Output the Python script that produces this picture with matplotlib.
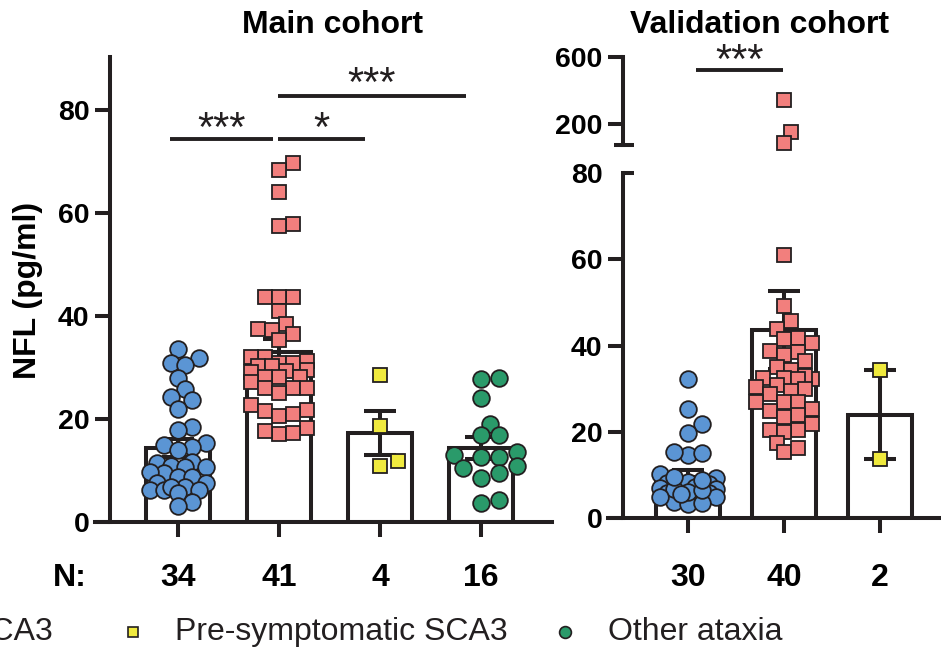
import numpy as np
import matplotlib
matplotlib.use("Agg")
import matplotlib.pyplot as plt
import matplotlib.transforms as mtransforms
from matplotlib.lines import Line2D

plt.rcParams["font.family"] = ["Liberation Sans", "DejaVu Sans"]

# ---- data ----
main_groups = ["Symptomatic SCA3", "Symptomatic SCA3 (2)", "Pre-symptomatic SCA3", "Other ataxia"]
main_n = ["34", "41", "4", "16"]
main_mean = [14.4, 33.0, 17.3, 14.4]
main_sem = [1.8, 2.6, 4.2, 2.1]

main_sca3 = [33.5, 30.9, 31.9, 30.5, 28.0, 25.8, 24.3, 23.6, 21.9, 18.4, 17.9, 15.4,
             15.0, 14.6, 14.0, 11.7, 11.4, 10.9, 10.6, 10.6, 9.6, 9.8, 8.8, 8.8, 7.5,
             6.7, 7.5, 6.3, 6.3, 6.2, 6.7, 5.7, 3.9, 3.1]
main_sca3_b = [69.8, 68.3, 64.1, 57.9, 57.5, 43.6, 43.6, 43.6, 41.0, 37.5, 38.4, 37.3,
               36.5, 35.3, 32.1, 32.1, 30.3, 30.9, 30.8, 31.3, 29.5, 29.2, 29.4, 30.2,
               28.1, 28.1, 28.2, 27.1, 26.1, 26.1, 26.1, 25.0, 22.7, 21.6, 21.7, 20.6,
               21.0, 18.3, 17.1, 17.3, 17.7]
main_pre = [28.5, 18.6, 10.9, 11.9]
main_other = [27.8, 27.9, 24.0, 19.0, 16.9, 16.9, 12.6, 12.7, 13.1, 13.5, 9.6, 10.9,
              10.4, 8.5, 3.7, 4.3]

val_n = ["30", "40", "2"]
val_mean = [9.5, 43.6, 24.0]
val_err = [1.6, 9.0, 10.3]

val_a = [32.2, 25.2, 21.8, 19.6, 14.6, 15.0, 15.2, 10.2, 9.2, 7.4, 8.0, 8.2, 8.4, 7.3,
         6.7, 6.9, 5.7, 5.9, 4.8, 4.9, 3.8, 3.2, 3.4, 6.1, 6.7, 6.5, 8.8, 9.6, 5.6, 4.9]
val_b = [343, 154, 88, 60.9, 49.2, 45.6, 43.8, 41.7, 41.5, 40.5, 38.7, 38.6, 37.8, 36.3,
         35.1, 34.3, 32.4, 32.3, 32.9, 32.4, 32.2, 30.9, 30.3, 29.9, 29.5, 28.7, 26.8,
         27.0, 27.0, 25.2, 24.9, 23.9, 23.4, 21.8, 20.4, 20.3, 19.9, 17.5, 15.2, 16.3]
val_pre = [34.3, 13.7]

# ---- styles ----
INK = "#231f20"
BLUE = "#5b95d4"
RED = "#f27f7d"
YELLOW = "#f0ea3e"
GREEN = "#2a9a6a"
LW = 2.9

W, H = 941, 657
fig = plt.figure(figsize=(W / 100, H / 100), dpi=100)


def px_axes(x0, y0, x1, y1):
    """axes from pixel box (left, top, right, bottom)"""
    return fig.add_axes([x0 / W, 1 - y1 / H, (x1 - x0) / W, (y1 - y0) / H])


def style(ax, spine_x, bottom=True):
    for s in ["top", "right"]:
        ax.spines[s].set_visible(False)
    ax.spines["left"].set_position(("data", spine_x))
    ax.spines["left"].set_linewidth(LW)
    ax.spines["left"].set_color(INK)
    ax.spines["bottom"].set_linewidth(LW)
    ax.spines["bottom"].set_color(INK)
    ax.spines["bottom"].set_visible(bottom)
    ax.tick_params(axis="y", direction="out", length=10.8, width=LW, color=INK,
                   labelsize=20.5, pad=4)
    ax.tick_params(axis="x", direction="out", length=10.8, width=LW, color=INK,
                   labelbottom=False, bottom=bottom)
    for lab in ax.get_yticklabels():
        lab.set_fontweight("bold")
    ax.patch.set_visible(False)


def swarm(ax, xc, vals, d, step, nmax=4):
    vals = np.asarray(vals, float)
    pts = ax.transData.transform(np.column_stack([np.full(len(vals), xc), vals]))
    placed = []
    out = np.zeros(len(vals))
    cands = [0.0]
    for k in range(1, nmax + 1):
        cands += [k * step, -k * step]
    for i in np.argsort(vals):
        y = pts[i, 1]
        best, bestd = 0.0, -1
        for off in cands:
            if placed:
                pp = np.array(placed)
                md = np.min(np.hypot(pp[:, 0] - (pts[i, 0] + off), pp[:, 1] - y))
            else:
                md = 1e9
            if md >= d:
                best = off
                break
            if md > bestd:
                best, bestd = off, md
        placed.append((pts[i, 0] + best, y))
        out[i] = pts[i, 0] + best
    xy = ax.transData.inverted().transform(np.column_stack([out, pts[:, 1]]))
    return xy[:, 0]


def dots(ax, xc, vals, color, marker, ms, d, step):
    xs = swarm(ax, xc, vals, d, step)
    ax.plot(xs, vals, ls="none", marker=marker, ms=ms, mfc=color, mec=INK,
            mew=1.3, zorder=5, clip_on=False)


def bars(ax, means, errs, width):
    x = np.arange(len(means))
    ax.bar(x, means, width=width, color="white", edgecolor=INK, linewidth=LW, zorder=2)
    ax.errorbar(x, means, yerr=errs, fmt="none", ecolor=INK, elinewidth=LW,
                capsize=11.5, capthick=LW, zorder=3)


def sig(ax, x0, x1, y, text, ty):
    ax.plot([x0, x1], [y, y], color=INK, lw=2.8, clip_on=False, solid_capstyle="butt")
    ax.text((x0 + x1) / 2, ty, text, ha="center", va="center", fontsize=30,
            color=INK, clip_on=False)


# ---- main cohort ----
ax1 = px_axes(95, 57, 552, 522)
ax1.set_xlim(-0.822, 3.703)
ax1.set_ylim(0, 90.3)
ax1.set_yticks([0, 20, 40, 60, 80])
ax1.set_xticks(range(4))
style(ax1, -0.673)
bars(ax1, main_mean, main_sem, 0.64)
dots(ax1, 0, main_sca3, BLUE, "o", 12, 13, 7)
dots(ax1, 1, main_sca3_b, RED, "s", 10.5, 12, 7)
dots(ax1, 2, main_pre, YELLOW, "s", 10.5, 12, 9)
dots(ax1, 3, main_other, GREEN, "o", 12, 14, 9)
sig(ax1, -0.079, 0.941, 74.4, "***", 76.2)
sig(ax1, 0.99, 1.85, 74.4, "*", 76.2)
sig(ax1, 0.99, 2.85, 82.7, "***", 84.8)

# ---- validation cohort (broken axis) ----
ax2 = px_axes(608, 173, 941, 518)
ax2.set_xlim(-0.833, 2.635)
ax2.set_ylim(0, 80)
ax2.set_yticks([0, 20, 40, 60, 80])
ax2.set_xticks(range(3))
style(ax2, -0.677)
ax2.yaxis.get_major_ticks()[-1].tick1line.set_visible(False)
ax2.plot([-0.677, -0.56], [80, 80], color=INK, lw=LW, clip_on=False,
         solid_capstyle="butt")
bars(ax2, val_mean, val_err, 0.66)
low_b = [v for v in val_b if v <= 80]
high_b = [v for v in val_b if v > 80]
dots(ax2, 0, val_a, BLUE, "o", 12, 12, 7)
dots(ax2, 1, low_b, RED, "s", 10.5, 12, 7)
dots(ax2, 2, val_pre, YELLOW, "s", 10.5, 12, 9)

ax3 = px_axes(608, 57, 941, 145)
ax3.set_xlim(-0.833, 2.635)
ax3.set_ylim(75, 600)
ax3.set_yticks([200, 600])
ax3.set_xticks([])
style(ax3, -0.677, bottom=False)
ax3.plot([-0.771, -0.5625], [75, 75], color=INK, lw=LW, clip_on=False,
         solid_capstyle="butt")
dots(ax3, 1, high_b, RED, "s", 10.5, 12, 7)
sig(ax3, 0.083, 0.99, 522, "***", 573)

# ---- labels ----
fig.text(333 / W, 1 - 25 / H, "Main cohort", ha="center", va="center",
         fontsize=23, fontweight="bold")
fig.text(759 / W, 1 - 25 / H, "Validation cohort", ha="center", va="center",
         fontsize=23, fontweight="bold")
fig.text(28 / W, 1 - 290 / H, "NFL (pg/ml)", rotation=90, ha="center", va="center",
         fontsize=23, fontweight="bold")

ny = 1 - 578 / H
fig.text(70 / W, ny, "N:", ha="center", va="center", fontsize=23, fontweight="bold")
for ax, labels in [(ax1, main_n), (ax2, val_n)]:
    tr = mtransforms.blended_transform_factory(ax.transData, fig.transFigure)
    for i, lab in enumerate(labels):
        fig.text(i, ny, lab, transform=tr, ha="center", va="center",
                 fontsize=23, fontweight="bold")

# ---- legend row (runs off the left edge like the source) ----
ly = 1 - 632 / H
fig.text(53 / W, ly, "Symptomatic SCA3", ha="right", va="center", fontsize=23, color=INK)
fig.add_artist(Line2D([133 / W], [ly], transform=fig.transFigure, marker="s", ms=7.5,
                      mfc=YELLOW, mec=INK, mew=1.2, ls="none"))
fig.text(175 / W, ly, "Pre-symptomatic SCA3", ha="left", va="center", fontsize=23,
         color=INK)
fig.add_artist(Line2D([565 / W], [ly], transform=fig.transFigure, marker="o", ms=8.5,
                      mfc=GREEN, mec=INK, mew=1.2, ls="none"))
fig.text(608 / W, ly, "Other ataxia", ha="left", va="center", fontsize=23, color=INK)

fig.savefig("out.png", dpi=100)
